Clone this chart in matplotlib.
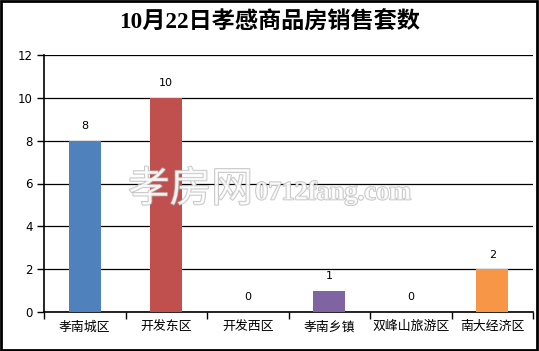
import matplotlib.pyplot as plt
import matplotlib.patheffects as pe
from matplotlib.patches import Rectangle

plt.rcParams['font.family'] = ['DejaVu Sans', 'Noto Sans CJK SC']

districts = ['孝南城区', '开发东区', '开发西区', '孝南乡镇', '双峰山旅游区', '南大经济区']
sales = [8, 10, 0, 1, 0, 2]
colors = ['#4F81BD', '#C0504D', '#9BBB59', '#8064A2', '#4BACC6', '#F79646']
y_ticks = [0, 2, 4, 6, 8, 10, 12]

fig = plt.figure(figsize=(5.39, 3.51), dpi=100)
ax = fig.add_axes([44 / 539, 1 - 312 / 351, (533 - 44) / 539, (312 - 55) / 351])

x = list(range(len(districts)))
ax.bar(x, sales, width=0.39, color=colors, zorder=3)
for xi, v in zip(x, sales):
    ax.text(xi, v + 0.45, str(v), ha='center', va='bottom', fontsize=8, zorder=4)

ax.set_xlim(-0.5, len(districts) - 0.5)
ax.set_ylim(0, 12)
ax.set_yticks(y_ticks)
ax.set_yticklabels([str(t) for t in y_ticks], fontsize=8.5)
ax.grid(axis='y', color='black', linewidth=0.9, zorder=0)

# category labels centred, ticks at the category boundaries
ax.set_xticks([i - 0.5 for i in range(len(districts) + 1)])
ax.set_xticklabels([])
ax.set_xticks(x, minor=True)
ax.set_xticklabels(districts, minor=True, fontsize=9.3, family=['Noto Sans CJK SC'])
ax.tick_params(axis='x', which='minor', length=0, pad=6)
ax.tick_params(axis='x', which='major', length=5, width=1)
ax.tick_params(axis='y', length=5, width=1, pad=3)

for s in ['top', 'right']:
    ax.spines[s].set_visible(False)
for s in ['left', 'bottom']:
    ax.spines[s].set_linewidth(1.2)

fig.text(0.5, 1 - 22 / 351, '10月22日孝感商品房销售套数', ha='center', va='center',
         fontsize=16.7, fontweight='bold', family=['Liberation Serif', 'Noto Sans CJK SC'])

# watermark
wm = [pe.withStroke(linewidth=1.2, foreground='#b0b0b0')]
fig.text(128 / 539, 1 - 190 / 351, '孝房网', ha='left', va='center', fontsize=30,
         color='white', alpha=0.75, family=['Noto Sans CJK SC'], path_effects=wm, zorder=10)
fig.text(255 / 539, 1 - 193 / 351, '0712fang.com', ha='left', va='center', fontsize=19,
         color='white', alpha=0.75, family=['Liberation Serif'], fontweight='bold',
         path_effects=wm, zorder=10)

fig.patches.append(Rectangle((0.002, 0.004), 0.994, 0.993, transform=fig.transFigure,
                             fill=False, edgecolor='black', linewidth=2))

fig.savefig('out.png', dpi=100)
